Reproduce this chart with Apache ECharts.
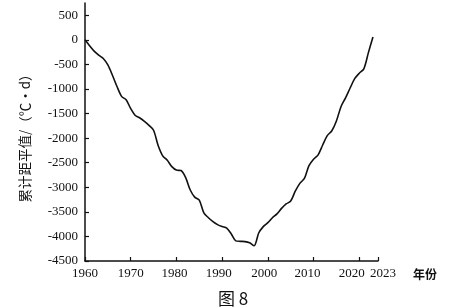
<!DOCTYPE html>
<html>
<head>
<meta charset="utf-8">
<script src="https://cdn.jsdelivr.net/npm/echarts@6/dist/echarts.min.js"></script>
<style>
html,body{margin:0;padding:0;background:#fff;}
#c{width:474px;height:308px;}
</style>
</head>
<body>
<div id="c"></div>
<script>
// Years (categories) and cumulative anomaly values (℃·d)
var years = [];
for (var y = 1960; y <= 2023; y++) years.push(y);
var values = [
  0, -120, -230, -310, -380, -510, -720, -950, -1150, -1220,
  -1400, -1540, -1590, -1660, -1740, -1840, -2150, -2360, -2450, -2580,
  -2650, -2660, -2800, -3050, -3200, -3260, -3520, -3620, -3700, -3760,
  -3800, -3830, -3950, -4090, -4100, -4105, -4130, -4190, -3930, -3800,
  -3720, -3620, -3540, -3430, -3340, -3280, -3080, -2920, -2820, -2560,
  -2430, -2340, -2140, -1950, -1850, -1650, -1360, -1180, -980, -790,
  -680, -590, -260, 60
];
// Tick values and labels
var xTickValues = [1960, 1970, 1980, 1990, 2000, 2010, 2020, 2024.1];
var xTickLabels = ['1960', '1970', '1980', '1990', '2000', '2010', '2020', '2023'];
var yTickValues = [-4500, -4000, -3500, -3000, -2500, -2000, -1500, -1000, -500, 0, 500];

var seriesData = years.map(function (yr, i) { return [yr, values[i]]; });

// label nudges (style keys) to mimic the original typesetting
var xLabelStyle = ['c', 'c', 'l2', 'l3', 'l3', 'l6', 'l8', 'r5'];

var chart = echarts.init(document.getElementById('c'));
chart.setOption({
  animation: false,
  backgroundColor: '#fff',
  title: {
    text: '图 8',
    left: 213,
    top: 285,
    textStyle: { fontFamily: 'Noto Sans CJK SC', fontSize: 17, fontWeight: 'normal', color: '#111' }
  },
  grid: { left: 85, right: 96, top: 3, bottom: 47, containLabel: false },
  xAxis: {
    type: 'value',
    min: 1960,
    max: 2024.1,
    name: '年份',
    nameLocation: 'end',
    nameGap: 35,
    nameTextStyle: { fontFamily: 'Noto Sans CJK SC', fontSize: 12, fontWeight: 'bold', color: '#111', verticalAlign: 'top', padding: [7, 0, 0, 0] },
    axisLine: { show: true, onZero: false, lineStyle: { color: '#111', width: 1.5 } },
    axisTick: { show: true, inside: true, length: 4, customValues: xTickValues, lineStyle: { color: '#111', width: 1.2 } },
    axisLabel: {
      customValues: xTickValues,
      showMinLabel: true,
      showMaxLabel: true,
      hideOverlap: false,
      margin: 6,
      fontFamily: 'Liberation Serif',
      fontSize: 13,
      color: '#111',
      formatter: function (v) {
        var i = -1;
        for (var k = 0; k < xTickValues.length; k++) if (Math.abs(xTickValues[k] - v) < 0.01) i = k;
        return i >= 0 ? '{' + xLabelStyle[i] + '|' + xTickLabels[i] + '}' : '';
      },
      rich: {
        c: { fontFamily: 'Liberation Serif', fontSize: 13, color: '#111' },
        l2: { fontFamily: 'Liberation Serif', fontSize: 13, color: '#111', padding: [0, 4, 0, 0] },
        l3: { fontFamily: 'Liberation Serif', fontSize: 13, color: '#111', padding: [0, 7, 0, 0] },
        l6: { fontFamily: 'Liberation Serif', fontSize: 13, color: '#111', padding: [0, 12, 0, 0] },
        l8: { fontFamily: 'Liberation Serif', fontSize: 13, color: '#111', padding: [0, 15, 0, 0] },
        r5: { fontFamily: 'Liberation Serif', fontSize: 13, color: '#111', padding: [0, 0, 0, 10] }
      }
    },
    splitLine: { show: false }
  },
  yAxis: {
    type: 'value',
    min: -4500,
    max: 750,
    name: '累计距平值/（℃·d）',
    nameLocation: 'middle',
    nameGap: 53,
    nameRotate: 90,
    nameTextStyle: { fontFamily: 'Noto Sans CJK SC', fontSize: 13.5, color: '#111', padding: [0, 6, 0, 0] },
    axisLine: { show: true, onZero: false, lineStyle: { color: '#111', width: 1.5 } },
    axisTick: { show: true, inside: true, length: 4, customValues: yTickValues, lineStyle: { color: '#111', width: 1.2 } },
    axisLabel: {
      customValues: yTickValues,
      showMinLabel: true,
      showMaxLabel: true,
      margin: 7,
      fontFamily: 'Liberation Serif',
      fontSize: 13,
      color: '#111',
      formatter: function (v) { return String(Math.round(v)); }
    },
    splitLine: { show: false }
  },
  series: [{
    type: 'line',
    data: seriesData,
    smooth: 0.3,
    symbol: 'none',
    lineStyle: { color: '#111', width: 1.6 }
  }]
});
</script>
</body>
</html>
